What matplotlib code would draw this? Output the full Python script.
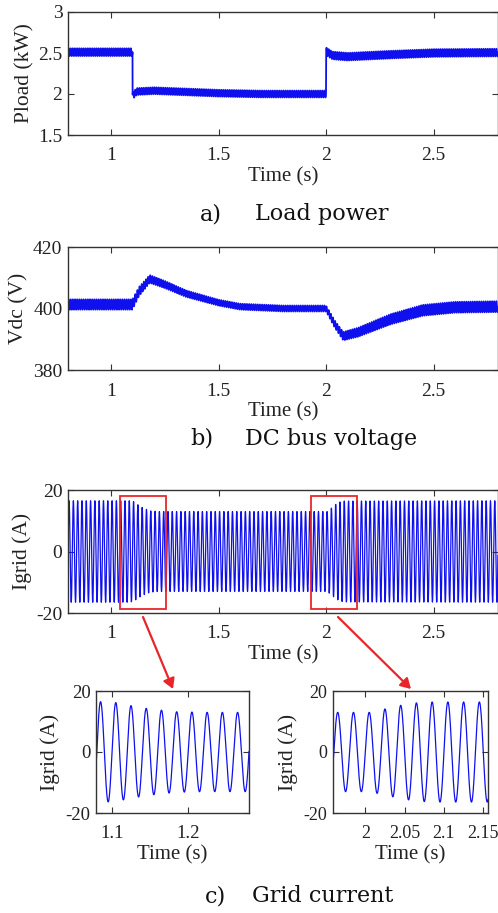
import numpy as np
import matplotlib
matplotlib.use('Agg')
import matplotlib.pyplot as plt
from matplotlib.patches import Rectangle, FancyArrowPatch

# ---------------- data ----------------
grid_freq_hz = 50          # grid current frequency
ripple_freq_hz = 100       # double-frequency ripple on Pload / Vdc

# Load power: mean value and ripple half-amplitude (kW)
pload_t = [0.8, 1.1, 1.1005, 1.12, 1.2, 1.3, 1.5, 1.7, 2.0, 2.0005, 2.03, 2.1, 2.3, 2.5, 2.8]
pload_mean = [2.51, 2.51, 1.98, 2.03, 2.04, 2.03, 2.01, 2.0, 2.0, 2.52, 2.47, 2.455, 2.48, 2.5, 2.505]
pload_ripple = [0.047, 0.047, 0.042, 0.042, 0.042, 0.042, 0.042, 0.042, 0.042, 0.047, 0.047, 0.047, 0.047, 0.047, 0.047]

# DC bus voltage: mean value and ripple half-amplitude (V)
vdc_t = [0.8, 1.1, 1.13, 1.18, 1.25, 1.35, 1.5, 1.6, 1.8, 2.0, 2.04, 2.08, 2.15, 2.3, 2.45, 2.6, 2.8]
vdc_mean = [401.3, 401.3, 405.5, 409.6, 407.8, 404.8, 401.9, 400.6, 400.0, 400.0, 395.0, 391.0, 392.3, 396.5, 399.4, 400.4, 400.6]
vdc_ripple = [1.7, 1.7, 1.5, 1.3, 1.2, 1.1, 1.0, 1.0, 1.0, 1.0, 1.2, 1.4, 1.5, 1.7, 1.8, 1.8, 1.8]

# Grid current peak amplitude (A)
igrid_t = [0.8, 1.085, 1.105, 1.125, 1.145, 1.165, 1.185, 1.22, 2.005, 2.025, 2.045, 2.065, 2.085, 2.8]
igrid_amp = [16.5, 16.5, 16.2, 15.2, 14.3, 13.7, 13.2, 13.0, 13.0, 14.1, 15.3, 16.1, 16.4, 16.5]

# axes settings
xlim_main = (0.8, 2.8)
xticks_main = [1, 1.5, 2, 2.5]
xticklabels_main = ['1', '1.5', '2', '2.5']
pload_yticks = [1.5, 2, 2.5, 3]
pload_yticklabels = ['1.5', '2', '2.5', '3']
vdc_yticks = [380, 400, 420]
igrid_yticks = [-20, 0, 20]
zoom1_xlim = (1.079, 1.28)
zoom1_xticks = [1.1, 1.2]
zoom1_xticklabels = ['1.1', '1.2']
zoom2_xlim = (1.959, 2.156)
zoom2_xticks = [2, 2.05, 2.1, 2.15]
zoom2_xticklabels = ['2', '2.05', '2.1', '2.15']
zoom_boxes = [(1.041, 1.255), (1.929, 2.142)]
zoom_box_y = (-18.7, 18.0)

captions = [('a)', 'Load power'), ('b)', 'DC bus voltage'), ('c)', 'Grid current')]

# ---------------- figure ----------------
plt.rcParams['axes.unicode_minus'] = False
serif = ['Liberation Serif', 'DejaVu Serif']
W, H = 498, 913
fig = plt.figure(figsize=(W / 100, H / 100), dpi=100)

def add_ax(left, top, right, bottom):
    return fig.add_axes([left / W, 1 - bottom / H, (right - left) / W, (bottom - top) / H])

def style(ax, ylabel, ypad=3, xpad=2, tsize=14):
    for s in ax.spines.values():
        s.set_color('#333333')
        s.set_linewidth(1.0)
    ax.tick_params(direction='in', top=True, right=True, length=4, width=0.8,
                   color='#333333', labelsize=tsize, pad=9)
    ax.tick_params(axis='y', pad=4)
    for lab in ax.get_xticklabels() + ax.get_yticklabels():
        lab.set_fontfamily(serif)
        lab.set_color('#222222')
    ax.set_xlabel('Time (s)', fontsize=15, family=serif, labelpad=xpad, color='#222222')
    ax.set_ylabel(ylabel, fontsize=15.5, family=serif, labelpad=ypad, color='#222222')

t_fast = np.arange(0.8, 2.8, 1 / 20000)
t_grid = np.arange(0.8, 2.8, 1 / 4000)
blue = '#1010ee'

# (a) Load power
ax1 = add_ax(68, 12, 498, 135)
p = np.interp(t_fast, pload_t, pload_mean) + np.interp(t_fast, pload_t, pload_ripple) * np.sin(2 * np.pi * ripple_freq_hz * t_fast)
ax1.plot(t_fast, p, color=blue, lw=1.3)
ax1.set_xlim(*xlim_main)
ax1.set_ylim(1.5, 3)
ax1.set_xticks(xticks_main, xticklabels_main)
ax1.set_yticks(pload_yticks, pload_yticklabels)
style(ax1, 'Pload (kW)')

# (b) DC bus voltage
ax2 = add_ax(68, 247, 498, 370)
v = np.interp(t_fast, vdc_t, vdc_mean) + np.interp(t_fast, vdc_t, vdc_ripple) * np.sin(2 * np.pi * ripple_freq_hz * t_fast)
ax2.plot(t_fast, v, color=blue, lw=1.2)
ax2.set_xlim(*xlim_main)
ax2.set_ylim(380, 420)
ax2.set_xticks(xticks_main, xticklabels_main)
ax2.set_yticks(vdc_yticks, [str(y) for y in vdc_yticks])
style(ax2, 'Vdc (V)')

# (c) Grid current
ax3 = add_ax(68, 490, 498, 613)
ig = np.interp(t_grid, igrid_t, igrid_amp) * np.sin(2 * np.pi * grid_freq_hz * t_grid)
ax3.plot(t_grid, ig, color=blue, lw=0.9)
ax3.set_xlim(*xlim_main)
ax3.set_ylim(-20, 20)
ax3.set_xticks(xticks_main, xticklabels_main)
ax3.set_yticks(igrid_yticks, [str(y) for y in igrid_yticks])
style(ax3, 'Igrid (A)')
for x0, x1 in zoom_boxes:
    ax3.add_patch(Rectangle((x0, zoom_box_y[0]), x1 - x0, zoom_box_y[1] - zoom_box_y[0],
                            fill=False, edgecolor='#e8262a', lw=1.3, zorder=5))

# zoomed views
t_z = np.arange(0.8, 2.8, 1 / 20000)
ig_z = np.interp(t_z, igrid_t, igrid_amp) * np.sin(2 * np.pi * grid_freq_hz * t_z)
ax4 = add_ax(96, 691, 249, 813)
ax4.plot(t_z, ig_z, color=blue, lw=0.9)
ax4.set_xlim(*zoom1_xlim)
ax4.set_ylim(-20, 20)
ax4.set_xticks(zoom1_xticks, zoom1_xticklabels)
ax4.set_yticks(igrid_yticks, [str(y) for y in igrid_yticks])
style(ax4, 'Igrid (A)', ypad=4, tsize=13.5)

ax5 = add_ax(333, 691, 488, 813)
ax5.plot(t_z, ig_z, color=blue, lw=0.9)
ax5.set_xlim(*zoom2_xlim)
ax5.set_ylim(-20, 20)
ax5.set_xticks(zoom2_xticks, zoom2_xticklabels)
ax5.set_yticks(igrid_yticks, [str(y) for y in igrid_yticks])
style(ax5, 'Igrid (A)', ypad=4, tsize=13)

# arrows
for (x0, y0), (x1, y1) in [((143, 617), (173, 689)), ((338, 617), (411, 689))]:
    fig.add_artist(FancyArrowPatch(
        (x0 / W, 1 - y0 / H), (x1 / W, 1 - y1 / H), transform=fig.transFigure,
        arrowstyle='-|>,head_length=6,head_width=3.5', color='#e8262a', lw=1.6,
        shrinkA=0, shrinkB=0))

# captions
cap_pos = [(200, 255, 220), (190, 245, 445), (205, 252, 902)]
for (lab, txt), (xl, xt, yb) in zip(captions, cap_pos):
    fig.text(xl / W, 1 - yb / H, lab, fontsize=16, family='DejaVu Serif', va='baseline', color='#111111')
    fig.text(xt / W, 1 - yb / H, txt, fontsize=16, family='DejaVu Serif', va='baseline', color='#111111')

fig.savefig('out.png', dpi=100)
